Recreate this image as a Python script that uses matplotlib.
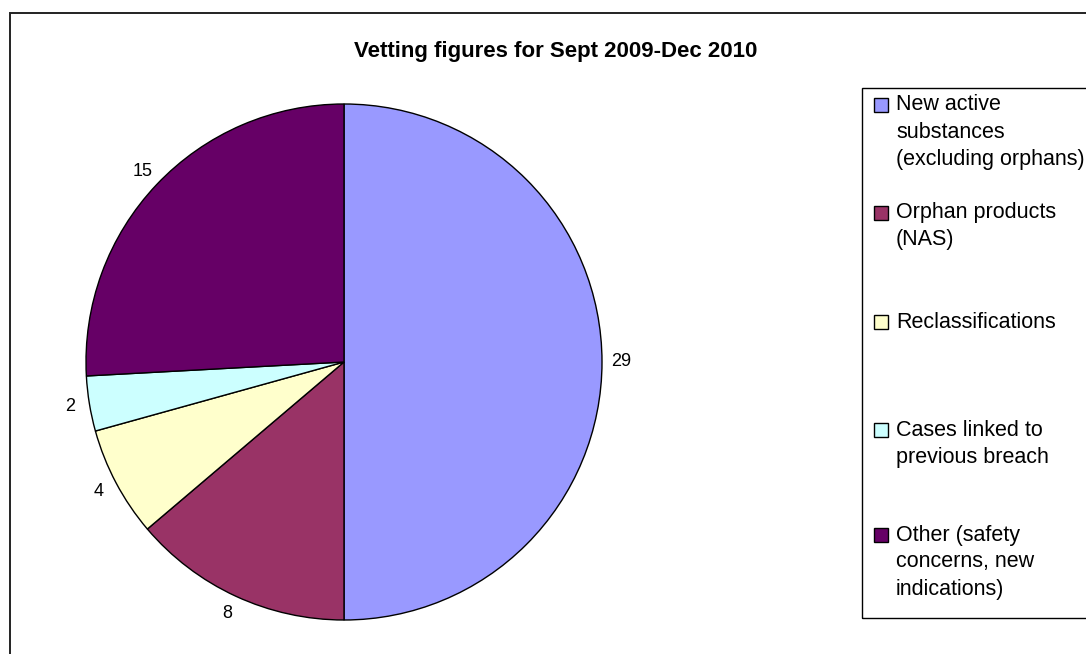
import matplotlib.pyplot as plt
from matplotlib.patches import Rectangle
import numpy as np

plt.rcParams['font.family'] = ['Liberation Sans', 'DejaVu Sans']

labels = ["New active\nsubstances\n(excluding orphans)",
          "Orphan products\n(NAS)",
          "Reclassifications",
          "Cases linked to\nprevious breach",
          "Other (safety\nconcerns, new\nindications)"]
counts = [29, 8, 4, 2, 15]
colors = ["#9999FF", "#993366", "#FFFFCC", "#CCFFFF", "#660066"]

W, H = 1086, 654
fig = plt.figure(figsize=(W / 100, H / 100), dpi=100)


def px(x, y):
    # pixel position (from top-left) -> figure fraction
    return x / W, 1 - y / H


# outer chart border
fig.patches.append(Rectangle(px(10, 700), (W + 20) / W, (700 - 13) / H,
                             transform=fig.transFigure, fill=False,
                             edgecolor="#222222", linewidth=1.4))

# pie area
cx, cy, r = 344, 362, 258
ax = fig.add_axes([(cx - r) / W, (H - cy - r) / H, 2 * r / W, 2 * r / H])
wedges, texts = ax.pie(counts, colors=colors, startangle=90, counterclock=False,
                       labels=[str(c) for c in counts], labeldistance=1.075,
                       wedgeprops=dict(edgecolor="black", linewidth=1.0),
                       textprops=dict(fontsize=13))
for t in texts:
    t.set_ha('center')
    t.set_va('center')
ax.set_xlim(-1, 1)
ax.set_ylim(-1, 1)
ax.set_aspect('equal')
ax.axis('off')

fig.text(*px(556, 52), "Vetting figures for Sept 2009-Dec 2010",
         ha='center', va='center', fontsize=16, fontweight='bold')

# legend
fig.patches.append(Rectangle(px(862, 618), (W + 20 - 862) / W, (618 - 88) / H,
                             transform=fig.transFigure, fill=False,
                             edgecolor="black", linewidth=1.0))
first_lines = [105, 213, 322, 430, 535]
for lab, col, y0 in zip(labels, colors, first_lines):
    fig.patches.append(Rectangle(px(874, y0 + 7), 14 / W, 14 / H,
                                 transform=fig.transFigure, facecolor=col,
                                 edgecolor="black", linewidth=1.0))
    for i, line in enumerate(lab.split("\n")):
        fig.text(*px(896, y0 + i * 27), line, ha='left', va='center', fontsize=15.5)

fig.savefig("out.png", dpi=100)
